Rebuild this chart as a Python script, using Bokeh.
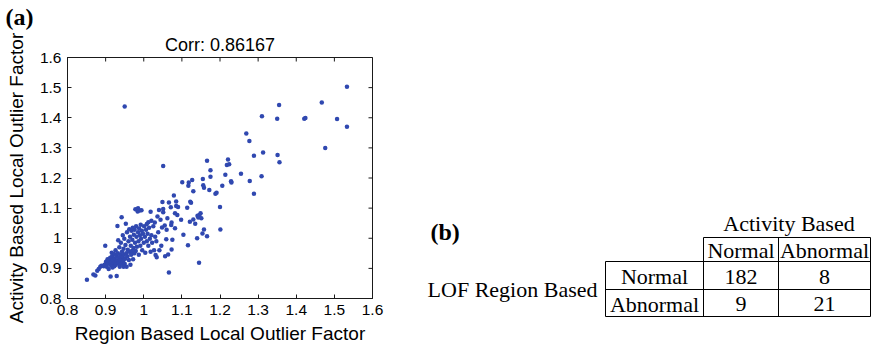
import math
from bokeh.plotting import figure
from bokeh.layouts import row
from bokeh.models import Range1d, FixedTicker, Title
from bokeh.core.properties import value
from bokeh.embed import file_html
from bokeh.resources import INLINE

# ---------------- data ----------------
region_lof = [
    0.950, 1.533, 1.467, 1.355, 1.310, 1.350, 1.421, 1.424, 1.507, 1.533,
    1.476, 1.269, 1.277, 1.313, 1.289, 1.351, 1.356, 1.166, 1.051, 1.221,
    1.224, 1.218, 1.255, 1.214, 1.175, 1.175, 1.155, 1.156, 1.158, 1.172,
    1.188, 1.191, 1.206, 1.229, 1.230, 1.278, 1.309, 1.289, 1.127, 1.118,
    1.101, 1.117, 1.130, 1.200, 1.201,
    1.079, 1.085, 1.122, 1.124, 1.114, 1.049, 1.066, 1.085, 1.071, 1.090,
    1.088, 1.098, 1.082, 1.073, 1.072, 1.082, 1.062, 1.051, 1.051, 1.040,
    1.036, 1.044, 1.055, 1.029, 1.020, 1.018, 1.060, 1.059, 1.075, 1.104,
    1.121, 1.130, 1.135, 1.141, 1.149, 1.146, 1.143, 1.151, 1.158, 1.154,
    1.140, 1.166, 1.116, 1.145, 1.066, 1.046, 1.073, 1.064, 1.056, 1.034,
    1.031, 1.048, 1.008, 1.012, 0.985, 0.989, 0.994,
    0.851, 0.868, 0.873, 0.878, 0.882, 0.886, 0.889,
    0.895, 0.897, 0.899, 0.901, 0.903, 0.905, 0.906, 0.908, 0.910, 0.912,
    0.913, 0.914, 0.915, 0.917, 0.918, 0.919, 0.920, 0.916,
    0.922, 0.923, 0.924, 0.925, 0.926, 0.927, 0.928, 0.929, 0.930, 0.931,
    0.932, 0.933, 0.934, 0.935, 0.936, 0.937, 0.938, 0.939, 0.940, 0.941,
    0.942, 0.943, 0.944, 0.945, 0.946, 0.947, 0.948, 0.949, 0.950, 0.947,
    0.951, 0.952, 0.953, 0.954, 0.955, 0.956, 0.957, 0.958, 0.960, 0.961,
    0.962, 0.963, 0.964, 0.965, 0.966, 0.967, 0.968, 0.969, 0.970, 0.971,
    0.972, 0.973, 0.974, 0.975, 0.976, 0.977, 0.978, 0.979,
    0.980, 0.981, 0.982, 0.984, 0.985, 0.986, 0.987, 0.988, 0.990, 0.991,
    0.992, 0.993, 0.995, 0.996, 0.998, 1.000, 1.001, 1.003, 1.004, 1.006,
    1.008, 1.010, 1.012, 1.014, 1.016, 1.018, 1.020, 1.022, 1.025, 1.027,
    1.030, 1.033, 1.038, 1.041,
]
activity_lof = [
    1.437, 1.503, 1.451, 1.442, 1.405, 1.397, 1.397, 1.399, 1.396, 1.370,
    1.300, 1.348, 1.323, 1.285, 1.274, 1.276, 1.252, 1.257, 1.240, 1.261,
    1.246, 1.243, 1.214, 1.211, 1.226, 1.204, 1.197, 1.176, 1.168, 1.160,
    1.148, 1.151, 1.174, 1.189, 1.185, 1.190, 1.206, 1.148, 1.193, 1.185,
    1.186, 1.174, 1.156, 1.104, 1.029,
    1.142, 1.122, 1.121, 1.118, 1.101, 1.120, 1.119, 1.107, 1.103, 1.104,
    1.077, 1.061, 1.083, 1.052, 1.044, 1.033, 1.066, 1.097, 1.086, 1.094,
    1.072, 1.061, 1.042, 1.052, 1.058, 1.088, 1.028, 0.997, 0.995, 1.012,
    1.055, 1.062, 1.048, 1.075, 1.083, 1.077, 1.069, 1.066, 1.029, 1.016,
    1.000, 1.007, 0.977, 0.919, 0.886, 0.975, 0.963, 0.946, 0.940, 0.937,
    0.944, 1.036, 1.047, 1.053, 1.100, 1.092, 1.093,
    0.862, 0.880, 0.876, 0.892, 0.898, 0.905, 0.909,
    0.907, 0.912, 0.975, 0.922, 0.905, 0.930, 0.915, 0.898, 0.927, 0.935,
    0.873, 0.910, 0.920, 0.940, 0.903, 0.928, 0.915, 0.952,
    0.948, 0.907, 0.932, 0.920, 0.960, 0.912, 0.940, 0.875, 0.925, 1.041,
    0.950, 0.993, 0.918, 0.935, 0.970, 0.905, 0.945, 0.928, 0.985, 0.915,
    1.070, 0.955, 0.938, 1.010, 0.925, 0.965, 0.945, 0.998, 0.915, 0.905,
    0.932, 0.978, 1.048, 0.950, 0.905, 1.020, 0.940, 0.962, 0.990, 0.928,
    1.030, 0.955, 1.005, 0.912, 0.975, 0.945, 1.025, 0.958, 0.995, 1.035,
    0.930, 0.968, 1.012, 0.950, 1.028, 0.985, 1.096, 0.958,
    1.040, 1.005, 0.972, 1.089, 1.020, 0.990, 0.945, 1.032, 1.010, 0.975,
    1.045, 0.998, 1.025, 0.960, 1.015, 0.985, 1.040, 1.005, 0.952, 1.028,
    0.990, 1.015, 0.975, 1.035, 0.998, 0.955, 1.010, 0.985, 1.040, 0.960,
    1.005, 0.990, 1.020, 0.960,
]

tick_vals = [0.8, 0.9, 1.0, 1.1, 1.2, 1.3, 1.4, 1.5, 1.6]
tick_labels = ["0.8", "0.9", "1", "1.1", "1.2", "1.3", "1.4", "1.5", "1.6"]
title_text = "Corr: 0.86167"
x_label = "Region Based Local Outlier Factor"
y_label = "Activity Based Local Outlier Factor"

table_col_header = "Activity Based"
table_row_header = "LOF Region Based"
class_names = ["Normal", "Abnormal"]
counts = [[182, 8], [9, 21]]

SANS = "Liberation Sans"
SERIF = "Liberation Serif"
INK = "#1a1a1a"
DOT = "#3048b0"

# ---------------- panel (a): scatter ----------------
lo, hi = tick_vals[0], tick_vals[-1]
p = figure(width=400, height=346, title=None,
           x_range=Range1d(lo, hi), y_range=Range1d(lo, hi),
           output_backend="svg", toolbar_location=None,
           min_border_left=67, min_border_right=28,
           min_border_top=57, min_border_bottom=47)
p.frame_align = False
p.background_fill_color = "white"
p.border_fill_color = "white"
p.grid.visible = False
p.outline_line_color = INK
p.outline_line_width = 1

p.add_layout(Title(text=title_text, align="center", text_font=SANS,
                   text_font_size="18px", text_font_style="normal",
                   text_color="black", standoff=5), "above")
p.add_layout(Title(text="(a)", align="left", offset=-62, text_font=SERIF,
                   text_font_size="24px", text_font_style="bold",
                   text_color="black", standoff=2), "above")

overrides = dict(zip(tick_vals, tick_labels))
for ax, lab, st in ((p.xaxis[0], x_label, 5), (p.yaxis[0], y_label, 10)):
    ax.ticker = FixedTicker(ticks=tick_vals)
    ax.major_label_overrides = overrides
    ax.major_label_text_font = SANS
    ax.major_label_text_font_size = "15.5px"
    ax.major_label_text_color = "black"
    ax.major_label_standoff = 6
    ax.major_tick_in = 4
    ax.major_tick_out = 0
    ax.major_tick_line_color = INK
    ax.minor_tick_line_color = None
    ax.axis_line_color = INK
    ax.axis_label = lab
    ax.axis_label_text_font = SANS
    ax.axis_label_text_font_size = "19px"
    ax.axis_label_text_font_style = "normal"
    ax.axis_label_text_color = "black"
    ax.axis_label_standoff = st

# mirrored inward ticks on the top and right edges (half clipped by the frame)
n = len(tick_vals)
p.scatter(x=tick_vals, y=[hi] * n, marker="dash", angle=math.pi / 2,
          size=8, line_color=INK, line_width=1)
p.scatter(x=[hi] * n, y=tick_vals, marker="dash", angle=0,
          size=8, line_color=INK, line_width=1)

p.scatter(region_lof, activity_lof, size=4.5, marker="circle",
          fill_color=DOT, line_color=None)

# ---------------- panel (b): contingency table ----------------
t = figure(width=472, height=346, x_range=Range1d(400, 872),
           y_range=Range1d(346, 0), output_backend="svg", title=None,
           toolbar_location=None, x_axis_type=None, y_axis_type=None,
           min_border=0)
t.frame_align = False
t.outline_line_color = None
t.grid.visible = False

col_x = [605, 703, 778, 870]
row_y = [237, 261, 289, 316]
cell_cx = [(col_x[i] + col_x[i + 1]) / 2 for i in range(3)]
cell_cy = [(row_y[i] + row_y[i + 1]) / 2 for i in range(3)]

hx0 = [col_x[1], col_x[0], col_x[0], col_x[0]]
t.segment(x0=hx0, y0=row_y, x1=[col_x[3]] * 4, y1=row_y,
          line_color="black", line_width=1)
vy0 = [row_y[1], row_y[0], row_y[0], row_y[0]]
t.segment(x0=col_x, y0=vy0, x1=col_x, y1=[row_y[3]] * 4,
          line_color="black", line_width=1)

txt_x, txt_y, txt = [], [], []
txt_x.append((col_x[1] + col_x[3]) / 2 + 2); txt_y.append(223); txt.append(table_col_header)
for j, name in enumerate(class_names):
    txt_x.append(cell_cx[j + 1]); txt_y.append(cell_cy[0] + 1); txt.append(name)
for i, name in enumerate(class_names):
    cy = cell_cy[i + 1] + 1
    txt_x.append(cell_cx[0]); txt_y.append(cy); txt.append(name)
    for j in range(2):
        txt_x.append(cell_cx[j + 1]); txt_y.append(cy); txt.append(str(counts[i][j]))

t.text(x=txt_x, y=txt_y, text=txt, text_font=value(SERIF),
       text_font_size=value("22px"), text_align="center",
       text_baseline="middle", text_color="black")
t.text(x=[597], y=[289], text=[table_row_header], text_font=value(SERIF),
       text_font_size=value("22px"), text_align="right",
       text_baseline="middle", text_color="black")
t.text(x=[430], y=[231], text=["(b)"], text_font=value(SERIF),
       text_font_size=value("24px"), text_font_style="bold",
       text_align="left", text_baseline="middle", text_color="black")

layout = row(p, t)
open("out.html", "w").write(file_html(layout, INLINE))
